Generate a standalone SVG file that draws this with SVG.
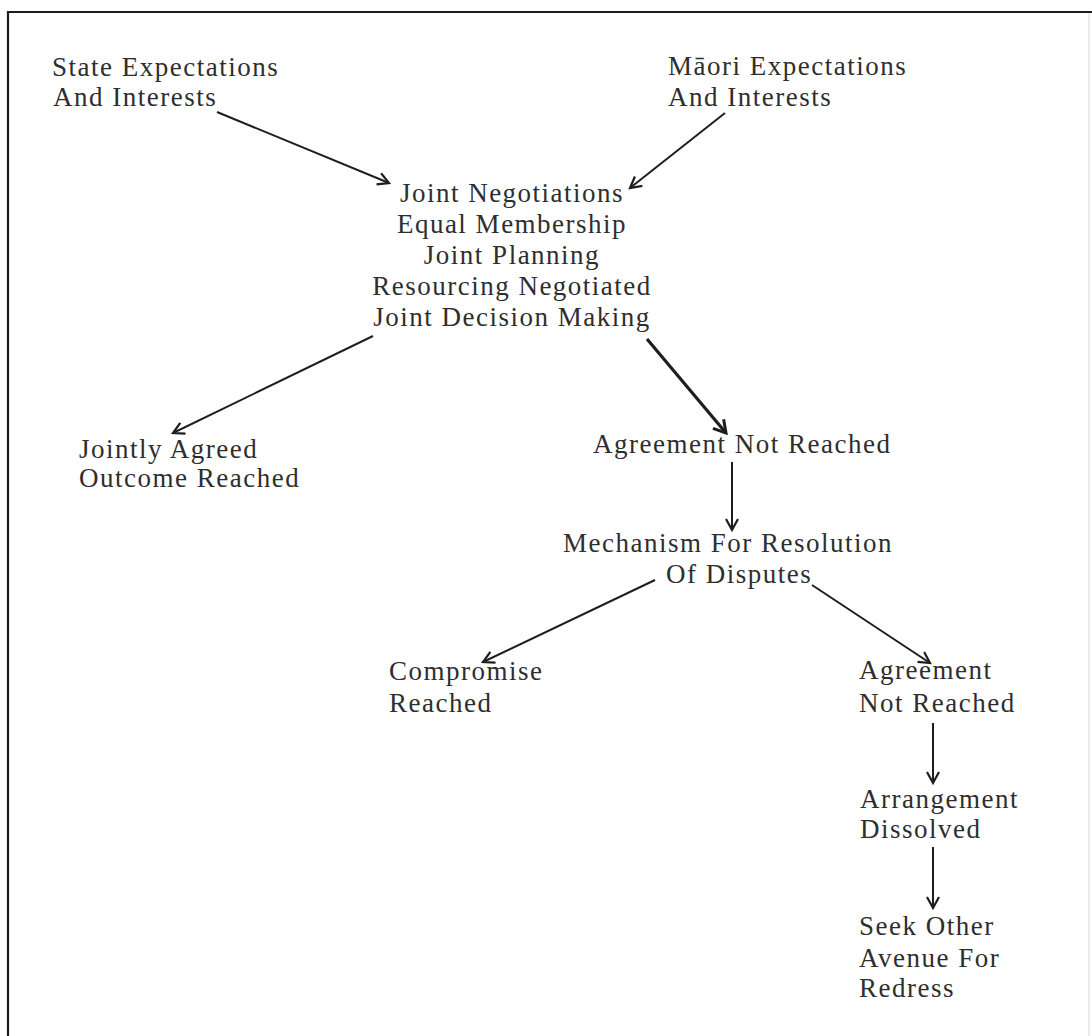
<svg xmlns="http://www.w3.org/2000/svg" width="1092" height="1036" viewBox="0 0 1092 1036">
<style>
  text { font-family: "Liberation Serif", "Times New Roman", serif; font-size: 27px; letter-spacing: 1.5px; fill: #2e2e2e; }
  .c { text-anchor: middle; }
  .edge { stroke: #1e1e1e; stroke-width: 2; fill: none; marker-end: url(#arr); }
  .thick { stroke-width: 3.2; marker-end: url(#arrT); }
</style>
<defs>
  <marker id="arr" markerUnits="userSpaceOnUse" markerWidth="16" markerHeight="16" refX="12" refY="7" orient="auto" viewBox="0 0 16 14">
    <path d="M1,1 L12,7 L1,13" fill="none" stroke="#1e1e1e" stroke-width="2.2" stroke-linejoin="miter"/>
  </marker>
  <marker id="arrT" markerUnits="userSpaceOnUse" markerWidth="18" markerHeight="18" refX="13" refY="8" orient="auto" viewBox="0 0 18 16">
    <path d="M1,1 L13,8 L1,15" fill="none" stroke="#1e1e1e" stroke-width="3" stroke-linejoin="miter"/>
  </marker>
</defs>
<rect x="0" y="0" width="1092" height="1036" fill="#ffffff"/>
<g id="frame">
  <line x1="8" y1="12" x2="1092" y2="12" stroke="#1a1a1a" stroke-width="2.2"/>
  <line x1="8" y1="11" x2="8" y2="1036" stroke="#1a1a1a" stroke-width="2.2"/>
  <line x1="1089" y1="13" x2="1089" y2="1036" stroke="#d6d6d6" stroke-width="1"/>
</g>
<g id="state">
  <text x="52" y="76">State Expectations</text>
  <text x="53" y="106">And Interests</text>
</g>
<g id="maori">
  <text x="668" y="75">Māori Expectations</text>
  <text x="668" y="106">And Interests</text>
</g>
<g id="joint">
  <text class="c" x="512" y="202">Joint Negotiations</text>
  <text class="c" x="512" y="233">Equal Membership</text>
  <text class="c" x="512" y="264">Joint Planning</text>
  <text class="c" x="512" y="295">Resourcing Negotiated</text>
  <text class="c" x="512" y="326">Joint Decision Making</text>
</g>
<g id="jointly-agreed">
  <text x="79" y="458">Jointly Agreed</text>
  <text x="79" y="487">Outcome Reached</text>
</g>
<g id="not-reached-1">
  <text x="593" y="453">Agreement Not Reached</text>
</g>
<g id="mechanism">
  <text x="563" y="552">Mechanism For Resolution</text>
  <text x="666" y="583">Of Disputes</text>
</g>
<g id="compromise">
  <text x="389" y="680">Compromise</text>
  <text x="389" y="712">Reached</text>
</g>
<g id="not-reached-2">
  <text x="859" y="679">Agreement</text>
  <text x="859" y="712">Not Reached</text>
</g>
<g id="dissolved">
  <text x="860" y="808">Arrangement</text>
  <text x="860" y="838">Dissolved</text>
</g>
<g id="seek">
  <text x="859" y="935">Seek Other</text>
  <text x="859" y="967">Avenue For</text>
  <text x="859" y="997">Redress</text>
</g>
<g id="connectors">
  <line class="edge" x1="217" y1="112" x2="389" y2="183"/>
  <line class="edge" x1="725" y1="113" x2="630" y2="188"/>
  <line class="edge" x1="373" y1="336" x2="173" y2="433"/>
  <line class="edge thick" x1="647" y1="339" x2="726" y2="433"/>
  <line class="edge" x1="732" y1="462" x2="732" y2="530"/>
  <line class="edge" x1="655" y1="580" x2="483" y2="662"/>
  <line class="edge" x1="812" y1="585" x2="930" y2="663"/>
  <line class="edge" x1="933" y1="723" x2="933" y2="783"/>
  <line class="edge" x1="933" y1="847" x2="933" y2="908"/>
</g>
</svg>
